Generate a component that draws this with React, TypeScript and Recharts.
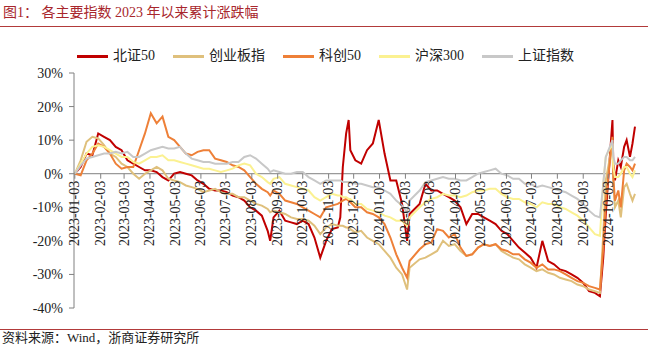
import { LineChart, Line, XAxis, YAxis, ReferenceLine } from 'recharts'

// weekly-ish samples, cumulative % since 2022-12-30
const dates = [
  '2023-01-03', '2023-01-10', '2023-01-17', '2023-01-24', '2023-01-31', '2023-02-07', '2023-02-14', '2023-02-21',
  '2023-02-28', '2023-03-07', '2023-03-14', '2023-03-21', '2023-03-28', '2023-04-04', '2023-04-11', '2023-04-18',
  '2023-04-25', '2023-05-02', '2023-05-09', '2023-05-16', '2023-05-23', '2023-05-30', '2023-06-06', '2023-06-13',
  '2023-06-20', '2023-06-27', '2023-07-04', '2023-07-11', '2023-07-18', '2023-07-25', '2023-08-01', '2023-08-08',
  '2023-08-15', '2023-08-22', '2023-08-25', '2023-08-29', '2023-09-05', '2023-09-12', '2023-09-19', '2023-09-26',
  '2023-10-03', '2023-10-10', '2023-10-17', '2023-10-24', '2023-10-31', '2023-11-07', '2023-11-14', '2023-11-17',
  '2023-11-20', '2023-11-24', '2023-11-27', '2023-11-29', '2023-12-05', '2023-12-12', '2023-12-19', '2023-12-26',
  '2024-01-02', '2024-01-09', '2024-01-16', '2024-01-23', '2024-01-30', '2024-02-05', '2024-02-08', '2024-02-20',
  '2024-02-27', '2024-03-05', '2024-03-12', '2024-03-19', '2024-03-26', '2024-04-02', '2024-04-09', '2024-04-16',
  '2024-04-23', '2024-04-30', '2024-05-07', '2024-05-14', '2024-05-21', '2024-05-28', '2024-06-04', '2024-06-11',
  '2024-06-18', '2024-06-25', '2024-07-02', '2024-07-09', '2024-07-16', '2024-07-23', '2024-07-30', '2024-08-06',
  '2024-08-13', '2024-08-20', '2024-08-27', '2024-09-03', '2024-09-10', '2024-09-17', '2024-09-23', '2024-09-27',
  '2024-09-30', '2024-10-08', '2024-10-09', '2024-10-11', '2024-10-15', '2024-10-18', '2024-10-22', '2024-10-25',
  '2024-10-29', '2024-11-01', '2024-11-04',
]

const bz50 = [
  0, 2, 6, 5.5, 12, 11, 10, 8,
  7, 4, 3, 2, 1, 1, 0.5, -1,
  -2, 0, 0.5, 0, -0.5, -2, -3, -4.5,
  -5, -5, -5.5, -6.5, -7, -8, -10, -11,
  -12.5, -17, -20, -13, -11, -14, -14.5, -15,
  -14, -15, -19, -25, -20, -16.5, -16, -13,
  2, 12, 16, 7, 4, 3, 7, 9,
  16, 6, -2, -2, -9, -20, -12, -9,
  -3, -5, -5, -6, -7, -8, -10, -15,
  -12, -12, -13, -14, -15, -17, -18, -20,
  -22, -23.5, -25, -28, -20, -26, -27, -28.5,
  -29, -30, -31, -32.5, -35, -35.5, -36.5, -25,
  -12, 16, 3, -2, 4, 2, 8, 10,
  5, 9, 14,
]

const cyb = [
  0, 4, 9.5, 11, 10.5, 8.5, 6, 5,
  3, 2, 0, -1.5, 0, 1, 2, 1,
  -1.5, -2, -2.5, -3.5, -4, -4.5, -5.5, -5,
  -4.5, -5.5, -6, -6, -7, -7, -8, -9,
  -9.5, -10.5, -11.5, -11, -11.5, -12, -13, -13.5,
  -13.5, -14, -15.5, -18, -16, -15, -15.5, -15.5,
  -15.5, -16, -16, -16.5, -17.5, -17, -19, -20,
  -21, -23, -25, -28, -30, -34.5, -28, -25.5,
  -25, -24, -23, -20, -21.5, -21, -23, -24.5,
  -24, -22, -21, -21.5, -21, -23, -24, -25,
  -25.5, -27, -28, -29, -28.5, -29.5, -30, -31,
  -31.5, -32, -33, -33.5, -34.5, -35, -35.5, -18,
  -2, 9, -3, -10, -8, -13, -4, -3,
  -6, -8, -6,
]

const kc50 = [
  0, -0.5, 4, 6, 9, 8, 6, 3,
  1.5, 2, 2, 7, 12, 18, 15, 17,
  11, 10, 8, 6, 5.5, 6.5, 7, 7,
  4.5, 4, 3.5, 2.5, 2, 1, -1, -3,
  -4.5, -5.5, -6.5, -5, -6, -8, -8.5, -9,
  -10, -11, -12, -13, -10, -9.5, -9, -8.5,
  -8, -7.5, -8, -8.5, -10, -10, -11.5, -12,
  -13, -15, -19, -24, -28, -31, -26, -22.5,
  -21, -20.5, -16.5, -17, -19, -18, -22, -24.5,
  -24, -22, -21, -21.5, -21, -22.5, -23, -24,
  -24, -25.5, -26.5, -28, -27, -28.5, -28.5, -29,
  -30, -31, -32, -32.5, -33.5, -34, -34.5, -22,
  -8, 11, -1, -8, -5, -10, 1, 3,
  2, 1, 3,
]

const hs300 = [
  0, 3, 6, 8, 8.5, 8, 7, 6,
  5, 5, 3.5, 3, 4, 5, 5, 5.5,
  4, 4, 3.5, 3, 2.5, 2, 1.5, 1.5,
  1, 0.5, 1, 1.5, 2.5, 3, 2.5, 0,
  -1, -2.5, -3, -1.5, -1, -3, -3.5, -4,
  -4.5, -5, -7, -8, -7, -6, -6.5, -6.5,
  -7, -7, -7.5, -7.5, -9, -9, -10.5, -11,
  -11.5, -12.5, -13, -14, -14, -15.5, -13, -10,
  -8.5, -7.5, -7, -6, -6.5, -6.5, -7, -6.5,
  -5.5, -5, -5, -4.5, -4.5, -6, -7, -7.5,
  -7.5, -8.5, -9, -10, -8.5, -9, -9, -10,
  -10.5, -11.5, -12.5, -14, -16, -18, -18.5, -3,
  5, 9, 2, -1, -1, 0, 2, 2,
  0, -1, 1,
]

const szzs = [
  0, 2.5, 4.5, 5, 5.5, 6, 6, 6.5,
  6, 6.5, 5, 5, 6, 7, 7.5, 8,
  7.5, 7.5, 8, 6, 4.5, 4, 3.5, 3.5,
  3, 3, 3, 3.5, 3.5, 5, 5.5, 4.5,
  3, 1.5, 0.5, 1, 0.5, 0, 0, 0.5,
  0.5, -1, -2, -3, -2, -2, -2, -2,
  -2.5, -2.5, -2.5, -2.5, -3, -3, -3.5, -4,
  -4, -5, -6, -8, -9.5, -11.5, -8, -5,
  -2.5, -2, -1.5, -1, -1.5, -1.5, -2, -2,
  -1, 0, 0.5, 1, 1.5, 0, -0.5, -1.5,
  -1.5, -3, -3, -4, -3.5, -4, -4.5, -5,
  -5.5, -6.5, -7.5, -9, -11, -12.5, -13, -3,
  5, 10, 5, 3, 3, 4, 5, 5,
  4, 4, 5,
]

const monthTicks = [
  '2023-01-03', '2023-02-03', '2023-03-03', '2023-04-03', '2023-05-03', '2023-06-03', '2023-07-03', '2023-08-03',
  '2023-09-03', '2023-10-03', '2023-11-03', '2023-12-03', '2024-01-03', '2024-02-03', '2024-03-03', '2024-04-03',
  '2024-05-03', '2024-06-03', '2024-07-03', '2024-08-03', '2024-09-03', '2024-10-03',
]

const yTicks = [-40, -30, -20, -10, 0, 10, 20, 30]

const series = [
  { key: 'bz50', name: '北证50', color: '#C00000' },
  { key: 'cyb', name: '创业板指', color: '#DFC07C' },
  { key: 'kc50', name: '科创50', color: '#EE8038' },
  { key: 'hs300', name: '沪深300', color: '#FBF191' },
  { key: 'szzs', name: '上证指数', color: '#C8C8C8' },
]

const data = dates.map((d, i) => ({
  t: Date.parse(d),
  bz50: bz50[i],
  cyb: cyb[i],
  kc50: kc50[i],
  hs300: hs300[i],
  szzs: szzs[i],
}))

const FONT = "'Liberation Serif', 'Noto Sans CJK SC', serif"
const W = 648
const H = 356
const PLOT_TOP = 73
const PLOT_BOTTOM = 308
const Y_MIN = -40
const Y_MAX = 30
const X_START = Date.parse('2023-01-02')
const X_END = Date.parse('2024-11-10')
// the date axis crosses the value axis at 0
const zeroY = PLOT_TOP + (Y_MAX / (Y_MAX - Y_MIN)) * (PLOT_BOTTOM - PLOT_TOP)

function DateTick(props: any) {
  const { x, payload } = props
  const label = new Date(payload.value).toISOString().slice(0, 10)
  const ty = zeroY + 7
  return (
    <g>
      <line x1={x} x2={x} y1={zeroY} y2={zeroY + 5} stroke="#808080" />
      <text
        x={x}
        y={ty}
        transform={`rotate(-90, ${x}, ${ty})`}
        textAnchor="end"
        dominantBaseline="central"
        fontSize={14}
        fontFamily={FONT}
        fill="#222"
      >
        {label}
      </text>
    </g>
  )
}

export default function App() {
  return (
    <div style={{ position: 'relative', width: W, height: H, fontFamily: FONT, background: '#fff' }}>
      <style>{'body{margin:0}'}</style>

      <div style={{ position: 'absolute', left: 3, top: 4, fontSize: 14, lineHeight: '18px', color: '#A8262C', whiteSpace: 'pre' }}>
        图1： 各主要指数 2023 年以来累计涨跌幅
      </div>
      <div style={{ position: 'absolute', left: 0, top: 26, width: W, height: 1, background: '#B23A3A' }} />

      <div style={{ position: 'absolute', left: 77, top: 48, height: 16, display: 'flex', alignItems: 'center', fontSize: 14 }}>
        {series.map(s => (
          <div key={s.key} style={{ display: 'flex', alignItems: 'center', marginRight: 18 }}>
            <span style={{ display: 'inline-block', width: 31, height: 3, background: s.color, marginRight: 5 }} />
            <span style={{ color: '#222', lineHeight: '16px', whiteSpace: 'nowrap' }}>{s.name}</span>
          </div>
        ))}
      </div>

      <div style={{ position: 'absolute', left: 0, top: 0 }}>
        <LineChart width={W} height={H} data={data} margin={{ top: PLOT_TOP, right: 8, bottom: 38, left: 0 }}>
          <XAxis
            dataKey="t"
            type="number"
            domain={[X_START, X_END]}
            ticks={monthTicks.map(d => Date.parse(d))}
            interval={0}
            allowDataOverflow
            axisLine={false}
            tickLine={false}
            height={10}
            tick={<DateTick />}
          />
          <YAxis
            domain={[Y_MIN, Y_MAX]}
            ticks={yTicks}
            interval={0}
            width={74}
            tickSize={5}
            tickMargin={6}
            axisLine={{ stroke: '#808080' }}
            tickLine={{ stroke: '#808080' }}
            tick={{ fill: '#222', fontSize: 14, fontFamily: FONT }}
            tickFormatter={(v: number) => `${v}%`}
          />
          <ReferenceLine y={0} stroke="#808080" />
          {series.map(s => (
            <Line
              key={s.key}
              type="linear"
              dataKey={s.key}
              stroke={s.color}
              strokeWidth={2}
              dot={false}
              isAnimationActive={false}
            />
          ))}
        </LineChart>
      </div>

      <div style={{ position: 'absolute', left: 0, top: 329, width: W, height: 1, background: '#B23A3A' }} />
      <div style={{ position: 'absolute', left: 2, top: 330, fontSize: 13, lineHeight: '16px', color: '#222' }}>
        资料来源：Wind，浙商证券研究所
      </div>
    </div>
  )
}
